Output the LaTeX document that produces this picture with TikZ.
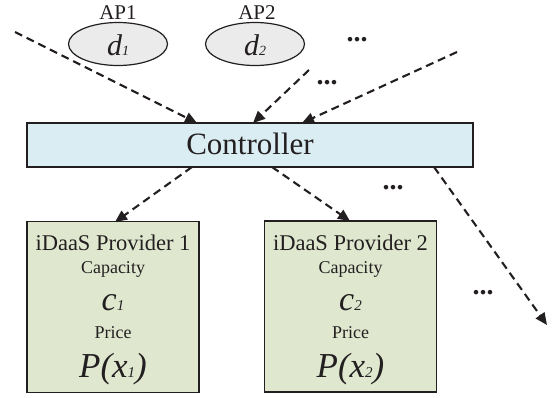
\documentclass[tikz,border=0pt]{standalone}
\usepackage{fontspec}
\setmainfont{Liberation Serif}
\usetikzlibrary{arrows.meta,shapes.geometric}
\definecolor{ctrlfill}{HTML}{DAEDF2}
\definecolor{boxfill}{HTML}{DFE8CF}
\definecolor{apfill}{HTML}{EBEBEB}
\definecolor{ink}{HTML}{231F20}
\newcommand{\fs}[1]{\fontsize{#1}{#1}\selectfont}
\begin{document}
\begin{tikzpicture}[x=1pt,y=-1pt,
  dasharrow/.style={draw=ink, line width=2.1pt, dash pattern=on 8pt off 5pt,
    -{Triangle[length=12pt,width=10.5pt]}},
  apnode/.style={ellipse, draw=ink, line width=1.2pt, fill=apfill,
    minimum width=99pt, minimum height=43pt, inner sep=0pt},
  ctrlbox/.style={rectangle, draw=ink, line width=1.4pt, fill=ctrlfill,
    minimum width=446pt, minimum height=44pt, inner sep=0pt},
  provbox/.style={rectangle, draw=ink, line width=1.4pt, fill=boxfill,
    minimum width=172pt, minimum height=171pt, inner sep=0pt},
  txt/.style={anchor=base, inner sep=0pt, text=ink},
  dots/.style={anchor=center, inner sep=0pt, text=ink, font=\fs{28}\bfseries}
]
\useasboundingbox (0,0) rectangle (556,397);

% AP ellipses
\node[apnode] (ap1) at (118,44) {};
\node[apnode] (ap2) at (255,44) {};
\node[txt, font=\fs{21}] (ap1lab) at (118,19) {AP1};
\node[txt, font=\fs{21}] (ap2lab) at (257,19) {AP2};
\node[txt, font=\fs{30}\itshape] (d1) at (ap1 |- 0,55) {d{\fs{14}1}};
\node[txt, font=\fs{30}\itshape] (d2) at (ap2 |- 0,55) {d{\fs{14}2}};
\node[dots] (topdots) at (357,40) {...};
\node[dots] (middots) at (327,83) {...};

% Controller
\node[ctrlbox] (ctrl) at (250,145) {};
\node[txt, font=\fs{31}] (ctrllab) at (250,154) {Controller};

% Providers
\node[provbox] (p1) at (113,307) {};
\node[provbox] (p2) at (350.5,306.5) {};
\foreach \b/\n in {p1/1,p2/2}{
  \node[txt, font=\fs{22.5}] (\b title) at (\b |- 0,250) {iDaaS Provider \n};
  \node[txt, font=\fs{18}] (\b cap) at (\b |- 0,273) {Capacity};
  \node[txt, font=\fs{34}\itshape] (\b c) at (\b |- 0,310) {c{\fs{15}\n}};
  \node[txt, font=\fs{18}] (\b price) at (\b |- 0,338) {Price};
  \node[txt, font=\fs{35}\itshape] (\b P) at (\b |- 0,377) {P(x{\fs{15}\n})};
}
\node[dots] (rdots1) at (393,188) {...};
\node[dots] (rdots2) at (483,293) {...};

% connector ends
\coordinate (s1) at (15,32);
\coordinate (s2) at (309,70);
\coordinate (s3) at (457,52);
\coordinate (t1) at (197,123);
\coordinate (t2) at (253,123);
\coordinate (t3) at (302,123);
\coordinate (b1) at (192,167);
\coordinate (b2) at (272,167);
\coordinate (b3) at (434,167);
\coordinate (e1) at (115,222);
\coordinate (e2) at (350,221);
\coordinate (e3) at (547,325);

\draw[dasharrow] (s1) -- (t1);
\draw[dasharrow] (s2) -- (t2);
\draw[dasharrow] (s3) -- (t3);
\draw[dasharrow] (b1) -- (e1);
\draw[dasharrow] (b2) -- (e2);
\draw[dasharrow] (b3) -- (e3);
\end{tikzpicture}
\end{document}
